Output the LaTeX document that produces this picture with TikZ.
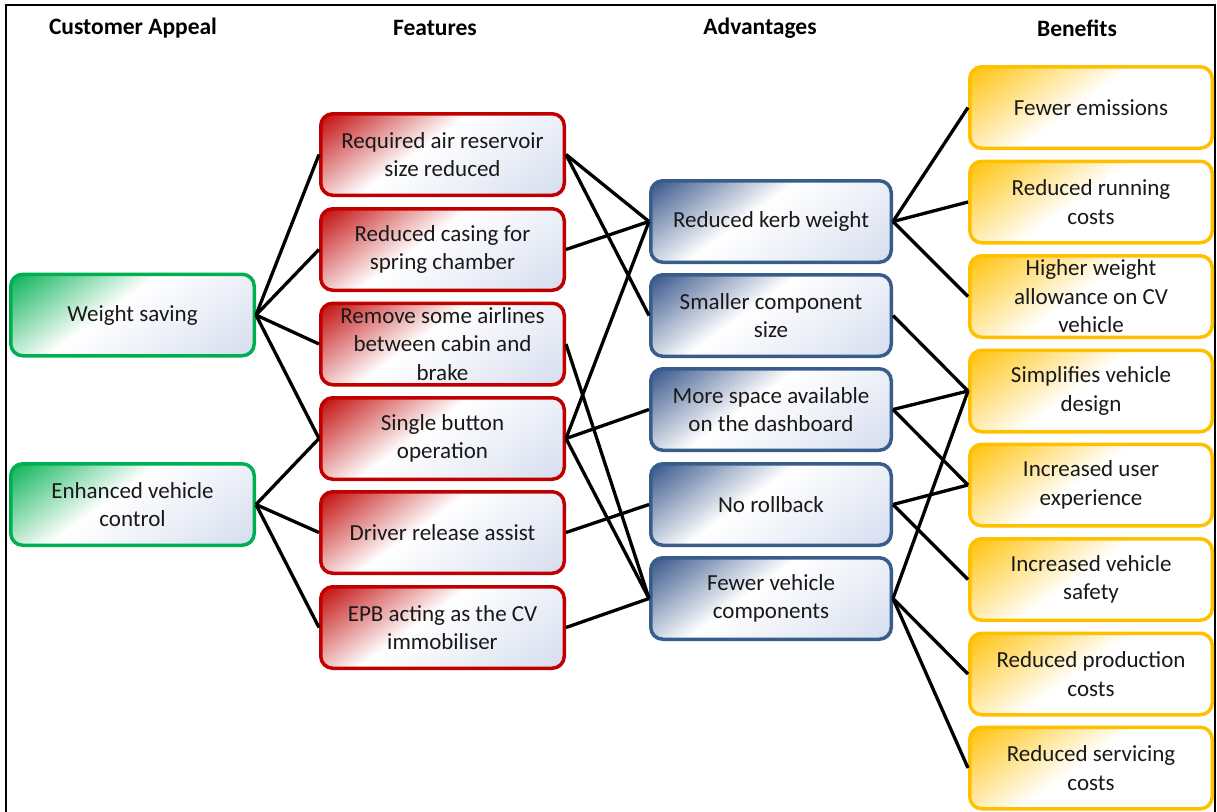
\documentclass[tikz,border=0pt]{standalone}
\usepackage{fontspec}
\setmainfont{Carlito}
\definecolor{cred}{HTML}{C00000}
\definecolor{cgreen}{HTML}{00B050}
\definecolor{cblue}{HTML}{2C4C84}
\definecolor{cblueb}{HTML}{385D8A}
\definecolor{cyel}{HTML}{FFC000}
\definecolor{cgray}{HTML}{D4DCEE}
\pgfdeclarehorizontalshading{redsh}{100bp}{color(0bp)=(cred); color(25bp)=(cred); color(46bp)=(white); color(75bp)=(cgray); color(100bp)=(cgray)}
\pgfdeclarehorizontalshading{greensh}{100bp}{color(0bp)=(cgreen); color(25bp)=(cgreen); color(46bp)=(white); color(75bp)=(cgray); color(100bp)=(cgray)}
\pgfdeclarehorizontalshading{bluesh}{100bp}{color(0bp)=(cblue); color(25bp)=(cblue); color(46bp)=(white); color(75bp)=(cgray); color(100bp)=(cgray)}
\pgfdeclarehorizontalshading{yelsh}{100bp}{color(0bp)=(cyel); color(25bp)=(cyel); color(48bp)=(white); color(100bp)=(white)}
\begin{document}
\begin{tikzpicture}[x=1pt,y=-1pt,
  grad/.style={path picture={
    \begin{scope}[transform canvas={rotate around={-54:(path picture bounding box.center)}}]
      \shade[shading=#1, shading angle=0]
        ([shift={(-107,-140)}]path picture bounding box.center) rectangle
        ([shift={(107,140)}]path picture bounding box.center);
    \end{scope}}},
  box/.style={rectangle, rounded corners=12pt, line width=3.5pt, minimum height=81.5pt,
    minimum width=243.5pt, align=center, text=black!90, font=\fontsize{23}{28.5}\selectfont,
    inner sep=2pt},
  gbox/.style={box, draw=cgreen, grad=greensh},
  rbox/.style={box, draw=cred, grad=redsh},
  bbox/.style={box, draw=cblueb, grad=bluesh, minimum width=240.5pt},
  ybox/.style={box, draw=cyel, grad=yelsh, minimum width=242.5pt},
  head/.style={font=\fontsize{23.5}{28}\selectfont\bfseries},
  link/.style={line width=3.3pt, black}]
\useasboundingbox (0,0) rectangle (1217,811);
\draw[line width=2pt] (6,5) rectangle (1215,840);

\node[head] (h1) at (133,28) {Customer Appeal};
\node[head] (h2) at (435,28) {Features};
\node[head] (h3) at (760,28) {Advantages};
\node[head] (h4) at (1077,28) {Benefits};

\node[gbox] (g1) at (132.5,315) {Weight saving};
\node[gbox] (g2) at (132.5,504.5) {Enhanced vehicle\\control};

\node[rbox] (f1) at (442.5,154.5) {Required air reservoir\\size reduced};
\node[rbox] (f2) at (442.5,249.5) {Reduced casing for\\spring chamber};
\node[rbox] (f3) at (442.5,344) {Remove some airlines\\between cabin and\\brake};
\node[rbox] (f4) at (442.5,438.5) {Single button\\operation};
\node[rbox] (f5) at (442.5,532.5) {Driver release assist};
\node[rbox] (f6) at (442.5,627.5) {EPB acting as the CV\\immobiliser};

\node[bbox] (a1) at (771,221.5) {Reduced kerb weight};
\node[bbox] (a2) at (771,315.5) {Smaller component\\size};
\node[bbox] (a3) at (771,409.5) {More space available\\on the dashboard};
\node[bbox] (a4) at (771,504.5) {No rollback};
\node[bbox] (a5) at (771,598.5) {Fewer vehicle\\components};

\node[ybox] (b1) at (1091,107.5) {Fewer emissions};
\node[ybox] (b2) at (1091,202) {Reduced running\\costs};
\node[ybox] (b3) at (1091,296.5) {Higher weight\\allowance on CV\\vehicle};
\node[ybox] (b4) at (1091,391) {Simplifies vehicle\\design};
\node[ybox] (b5) at (1091,485) {Increased user\\experience};
\node[ybox] (b6) at (1091,579.5) {Increased vehicle\\safety};
\node[ybox] (b7) at (1091,674) {Reduced production\\costs};
\node[ybox] (b8) at (1091,768) {Reduced servicing\\costs};

\foreach \t in {f1,f2,f3,f4} \draw[link] (g1.east) -- (\t.west);
\foreach \t in {f4,f5,f6} \draw[link] (g2.east) -- (\t.west);

\draw[link] (f1.east) -- (a1.west);
\draw[link] (f1.east) -- (a2.west);
\draw[link] (f2.east) -- (a1.west);
\draw[link] (f3.east) -- (a5.west);
\draw[link] (f4.east) -- (a1.west);
\draw[link] (f4.east) -- (a3.west);
\draw[link] (f4.east) -- (a5.west);
\draw[link] (f5.east) -- (a4.west);
\draw[link] (f6.east) -- (a5.west);

\draw[link] (a1.east) -- (b1.west);
\draw[link] (a1.east) -- (b2.west);
\draw[link] (a1.east) -- (b3.west);
\draw[link] (a2.east) -- (b4.west);
\draw[link] (a3.east) -- (b4.west);
\draw[link] (a3.east) -- (b5.west);
\draw[link] (a4.east) -- (b5.west);
\draw[link] (a4.east) -- (b6.west);
\draw[link] (a5.east) -- (b4.west);
\draw[link] (a5.east) -- (b7.west);
\draw[link] (a5.east) -- (b8.west);
\end{tikzpicture}
\end{document}
